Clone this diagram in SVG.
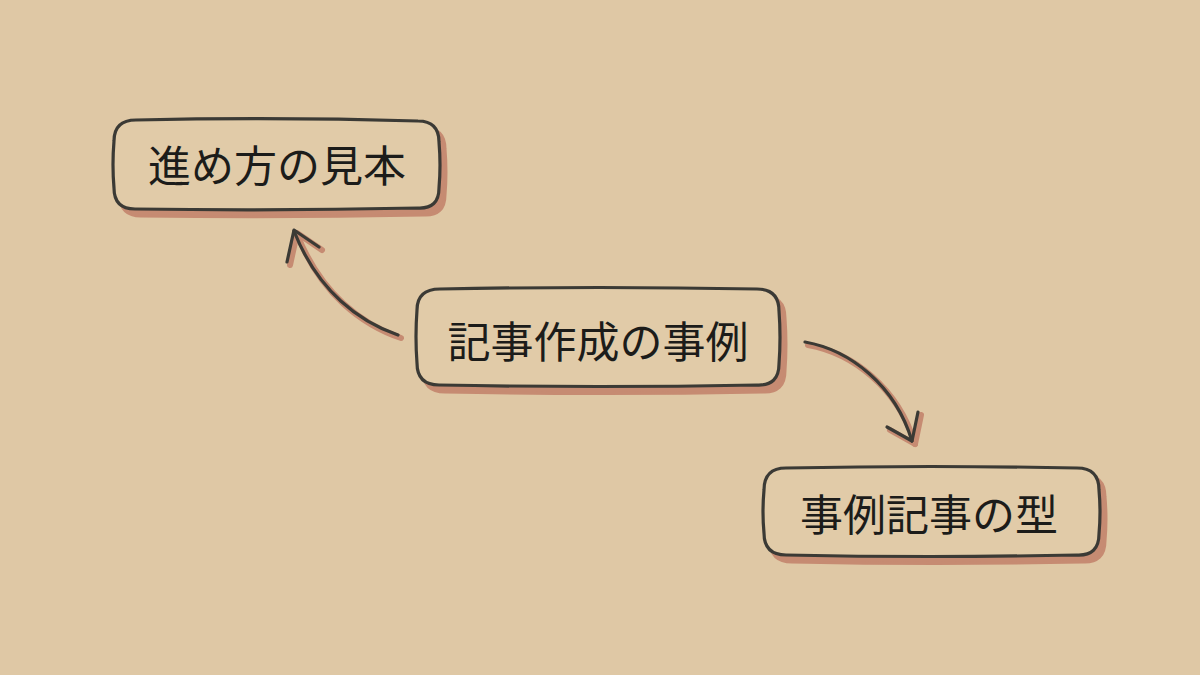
<svg xmlns="http://www.w3.org/2000/svg" width="1200" height="675" viewBox="0 0 1200 675">
<style>
.shadow{fill:#c68b72;stroke:#c68b72;stroke-width:3}
.box{fill:#e1cba8;stroke:#3b3a35;stroke-width:3.2;stroke-linejoin:round}
.lbl{font-family:"Noto Sans CJK JP","Noto Sans",sans-serif;font-size:43px;fill:#1c1c1a;text-anchor:middle;dominant-baseline:central}
.ash{fill:none;stroke:#c68b72;stroke-width:6;stroke-linecap:round;stroke-linejoin:round}
.arr{fill:none;stroke:#3b3a35;stroke-width:3.2;stroke-linecap:round;stroke-linejoin:round}
</style>
<rect width="1200" height="675" fill="#dfc8a5"/>
<g id="connectors">
<g transform="translate(3,3)">
<path class="ash" d="M398,335 C360,322 318,292 294,231"/>
<path class="ash" d="M287,262 L294,230 L319,247"/>
<path class="ash" d="M805,342 C850,350 895,385 912,441"/>
<path class="ash" d="M887,427 L912,441 L918,412"/>
</g>
<path class="arr" d="M398,335 C360,322 318,292 294,231"/>
<path class="arr" d="M287,262 L294,230 L319,247"/>
<path class="arr" d="M805,342 C850,350 895,385 912,441"/>
<path class="arr" d="M887,427 L912,441 L918,412"/>
</g>
<g id="node-mihon">
<path class="shadow" transform="translate(6,7)" d="M136,120 Q280,117 418,121 Q439,121 439,142 Q441,165 439,188 Q439,209 418,208 Q275,211 135,209 Q114,209 114,188 Q112,165 114,141 Q114,120 136,120 Z"/>
<path class="box" d="M136,120 Q280,117 418,121 Q439,121 439,142 Q441,165 439,188 Q439,209 418,208 Q275,211 135,209 Q114,209 114,188 Q112,165 114,141 Q114,120 136,120 Z"/>
<text class="lbl" x="277" y="163">進め方の見本</text>
</g>
<g id="node-jirei">
<path class="shadow" transform="translate(6,7)" d="M440,289 Q600,286 757,289 Q779,289 779,311 Q781,337 779,364 Q779,386 757,385 Q598,388 439,385 Q417,385 417,363 Q415,337 417,310 Q417,289 440,289 Z"/>
<path class="box" d="M440,289 Q600,286 757,289 Q779,289 779,311 Q781,337 779,364 Q779,386 757,385 Q598,388 439,385 Q417,385 417,363 Q415,337 417,310 Q417,289 440,289 Z"/>
<text class="lbl" x="598" y="339">記事作成の事例</text>
</g>
<g id="node-kata">
<path class="shadow" transform="translate(6,7)" d="M786,468 Q930,465 1077,468 Q1099,468 1099,490 Q1101,512 1099,534 Q1099,556 1077,555 Q930,558 786,555 Q764,555 764,533 Q762,512 764,490 Q764,468 786,468 Z"/>
<path class="box" d="M786,468 Q930,465 1077,468 Q1099,468 1099,490 Q1101,512 1099,534 Q1099,556 1077,555 Q930,558 786,555 Q764,555 764,533 Q762,512 764,490 Q764,468 786,468 Z"/>
<text class="lbl" x="929" y="512">事例記事の型</text>
</g>
</svg>
